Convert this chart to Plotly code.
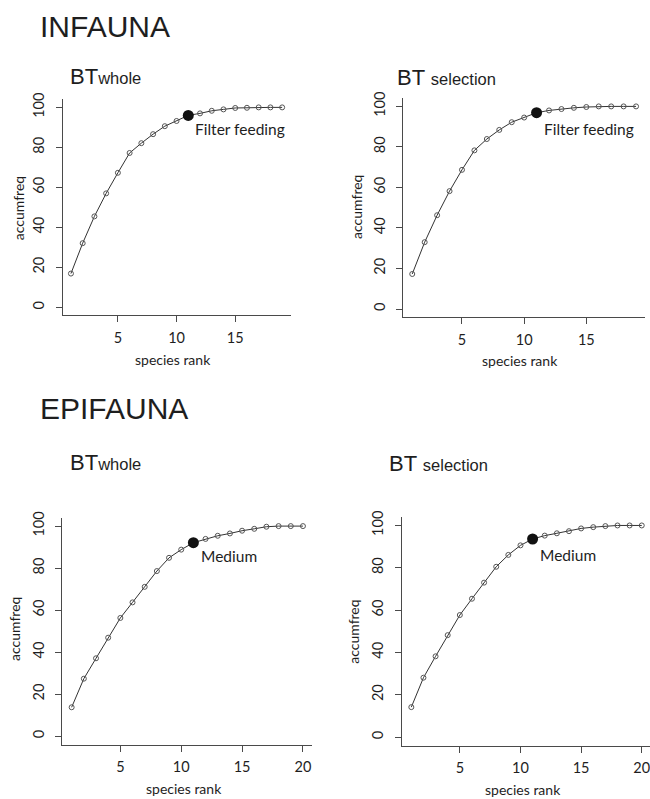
import plotly.graph_objects as go

W, H = 650, 799

# ---- data ----
rank_infauna = list(range(1, 20))
infauna_whole = [16.9, 32.1, 45.5, 57.0, 67.3, 77.2, 82.1, 86.6, 90.6, 93.2,
                 96.0, 97.0, 98.3, 99.0, 99.7, 99.8, 100, 100, 100]
infauna_selection = [17.3, 33.0, 46.3, 58.2, 68.7, 78.3, 83.9, 88.4, 92.2, 94.5,
                     96.9, 98.0, 98.7, 99.3, 99.7, 100, 100, 100, 100]
rank_epifauna = list(range(1, 21))
epifauna_whole = [13.8, 27.4, 37.1, 46.9, 56.3, 63.7, 71.1, 78.6, 84.9, 88.8,
                  92.1, 93.9, 95.4, 96.5, 97.8, 98.7, 99.7, 100, 100, 100]
epifauna_selection = [14.2, 28.1, 38.2, 48.2, 57.7, 65.4, 73.0, 80.5, 86.1, 90.6,
                      93.6, 95.2, 96.3, 97.3, 98.6, 99.2, 99.7, 100, 100, 100]
highlight_rank = 11
infauna_label = "Filter feeding"
epifauna_label = "Medium"
y_ticks = [0, 20, 40, 60, 80, 100]
x_ticks = [5, 10, 15, 20]

TXT = "#1e1e1e"
AX = "#4a4a4a"
FONT = "Lato"

panels = [
    dict(x=rank_infauna, y=infauna_whole, label=infauna_label,
         px=(62.5, 290.6), py=(93.2, 311.1), xr=[0.28, 19.72],
         lab_xy=(11.4, 89.2), ytitle=(18, 203), xtitle=(172.5, 356)),
    dict(x=rank_infauna, y=infauna_selection, label=infauna_label,
         px=(403.3, 645.0), py=(92.1, 312.9), xr=[0.28, 19.72],
         lab_xy=(11.45, 88.9), ytitle=(356.7, 202), xtitle=(520, 356.7)),
    dict(x=rank_epifauna, y=epifauna_whole, label=epifauna_label,
         px=(62.4, 312.2), py=(515.2, 744.2), xr=[0.24, 20.76],
         lab_xy=(11.45, 85.9), ytitle=(14.5, 628), xtitle=(183.5, 788)),
    dict(x=rank_epifauna, y=epifauna_selection, label=epifauna_label,
         px=(402.1, 650.0), py=(514.5, 745.2), xr=[0.24, 20.68],
         lab_xy=(11.45, 86.0), ytitle=(353.3, 630), xtitle=(522.7, 789)),
]

fig = go.Figure()
annotations = []
layout = {}

for i, p in enumerate(panels, start=1):
    xa = "x" if i == 1 else f"x{i}"
    ya = "y" if i == 1 else f"y{i}"
    fig.add_trace(go.Scatter(
        x=p["x"], y=p["y"], mode="lines+markers", xaxis=xa, yaxis=ya,
        line=dict(color="#333333", width=1),
        marker=dict(symbol="circle-open", size=5, color="#555555",
                    line=dict(width=1)),
        showlegend=False, hoverinfo="x+y"))
    hi = p["x"].index(highlight_rank)
    fig.add_trace(go.Scatter(
        x=[p["x"][hi]], y=[p["y"][hi]], mode="markers", xaxis=xa, yaxis=ya,
        marker=dict(symbol="circle", size=11, color="#111111"),
        showlegend=False, hoverinfo="x+y"))

    common = dict(showline=True, linecolor=AX, linewidth=1, showgrid=False,
                  zeroline=False, ticks="outside", ticklen=6, tickcolor=AX,
                  tickwidth=1, tickfont=dict(family=FONT, size=14.5, color=TXT),
                  ticklabeloverflow="allow")
    layout["xaxis" if i == 1 else f"xaxis{i}"] = dict(
        domain=[p["px"][0] / W, p["px"][1] / W], range=p["xr"],
        anchor=ya, tickvals=x_ticks, ticklabelstandoff=3, **common)
    layout["yaxis" if i == 1 else f"yaxis{i}"] = dict(
        domain=[1 - p["py"][1] / H, 1 - p["py"][0] / H], range=[-4, 104],
        anchor=xa, tickvals=y_ticks, tickangle=-90, ticklabelstandoff=6,
        **common)

    annotations.append(dict(
        x=p["lab_xy"][0], y=p["lab_xy"][1], xref=xa, yref=ya,
        text=p["label"], showarrow=False, xanchor="left", yanchor="middle",
        font=dict(family=FONT, size=15.5, color=TXT)))
    annotations.append(dict(
        x=p["ytitle"][0] / W, y=1 - p["ytitle"][1] / H, xref="paper", yref="paper",
        text="accumfreq", textangle=-90, showarrow=False,
        xanchor="center", yanchor="middle",
        font=dict(family=FONT, size=14, color=TXT)))
    annotations.append(dict(
        x=p["xtitle"][0] / W, y=1 - p["xtitle"][1] / H, xref="paper", yref="paper",
        text="species rank", showarrow=False,
        xanchor="center", yanchor="middle",
        font=dict(family=FONT, size=14, color=TXT)))

# Section titles
for txt, x, y in [("INFAUNA", 38, 20), ("EPIFAUNA", 38, 405)]:
    annotations.append(dict(x=x / W, y=1 - y / H, xref="paper", yref="paper",
                            text=txt, showarrow=False, xanchor="left",
                            yanchor="middle",
                            font=dict(family="Liberation Sans", size=30, color=TXT)))

for sub, x, y in [("whole", 68, 70), ("selection", 395, 71),
                  ("whole", 68, 460), ("selection", 387, 460.5)]:
    sep = "" if sub == "whole" else " "
    annotations.append(dict(
        x=x / W, y=1 - y / H, xref="paper", yref="paper",
        text=f"BT{sep}<span style='font-size:16.5px'>{sub}</span>",
        showarrow=False, xanchor="left", yanchor="middle",
        font=dict(family="Liberation Sans", size=22, color=TXT)))

fig.update_layout(
    width=W, height=H, margin=dict(l=0, r=0, t=0, b=0),
    paper_bgcolor="white", plot_bgcolor="white",
    annotations=annotations, **layout)

fig.write_html("out.html")
